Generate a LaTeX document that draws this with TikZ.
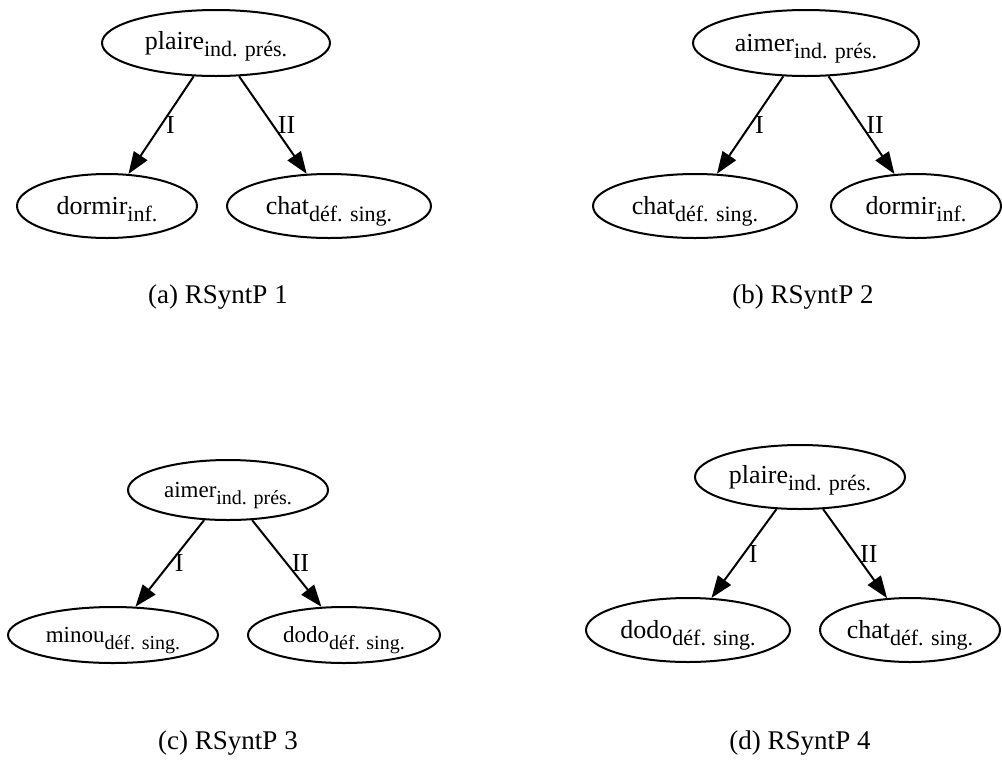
\documentclass[tikz,border=0pt]{standalone}
\usepackage{fontspec}
\setmainfont{Liberation Serif}
\usetikzlibrary{arrows.meta,shapes.geometric}
\newcommand{\gram}[2][11pt]{\raisebox{-3.5pt}[0pt][0pt]{\fontsize{#1}{#1}\selectfont #2}}
\tikzset{
    lex/.style={draw, ellipse, inner sep=0pt, minimum height=32pt, font=\fontsize{13pt}{15pt}\selectfont},
    dep/.style={-{Triangle[length=11pt,width=8pt]}},
    rel/.style={right, inner sep=2pt, font=\fontsize{13pt}{15pt}\selectfont},
    caption/.style={font=\fontsize{13.5pt}{16pt}\selectfont}
}
\begin{document}
\begin{tikzpicture}[x=0.5pt, y=-0.5pt, line width=1pt]
            \useasboundingbox (0,0) rectangle (1002,783);
            \node[lex, minimum width=114pt, minimum height=33pt] (plaireA) at (216,43) {plaire\gram{ind. prés.}};
            \node[lex, minimum width=90pt] (dormirA) at (107,206) {dormir\gram{inf.}};
            \node[lex, minimum width=102pt] (chatA) at (329,206) {chat\gram{déf. sing.}};
            \draw[dep] (plaireA) -- node[rel] {I} (dormirA);
            \draw[dep] (plaireA) -- node[rel] {II} (chatA);
            \node[caption] (capA) at (218,297) {(a) RSyntP 1};
            \node[lex, minimum width=113pt, minimum height=33pt] (aimerB) at (806,43) {aimer\gram{ind. prés.}};
            \node[lex, minimum width=102pt] (chatB) at (695,206) {chat\gram{déf. sing.}};
            \node[lex, minimum width=85pt] (dormirB) at (916,206) {dormir\gram{inf.}};
            \draw[dep] (aimerB) -- node[rel] {I} (chatB);
            \draw[dep] (aimerB) -- node[rel] {II} (dormirB);
            \node[caption] (capB) at (803,297) {(b) RSyntP 2};
            \node[lex, minimum width=100pt, minimum height=30pt, font=\fontsize{11.5pt}{13pt}\selectfont] (aimerC) at (228,490) {aimer\gram[10pt]{ind. prés.}};
            \node[lex, minimum width=105pt, minimum height=28pt, font=\fontsize{11.5pt}{13pt}\selectfont] (minouC) at (113,635) {minou\gram[10pt]{déf. sing.}};
            \node[lex, minimum width=96pt, minimum height=28pt, font=\fontsize{11.5pt}{13pt}\selectfont] (dodoC) at (344,635) {dodo\gram[10pt]{déf. sing.}};
            \draw[dep] (aimerC) -- node[rel] {I} (minouC);
            \draw[dep] (aimerC) -- node[rel] {II} (dodoC);
            \node[caption] (capC) at (228,743) {(c) RSyntP 3};
            \node[lex, minimum width=105pt] (plaireD) at (800,477) {plaire\gram{ind. prés.}};
            \node[lex, minimum width=102pt] (dodoD) at (688,630) {dodo\gram{déf. sing.}};
            \node[lex, minimum width=90pt] (chatD) at (910,630) {chat\gram{déf. sing.}};
            \draw[dep] (plaireD) -- node[rel] {I} (dodoD);
            \draw[dep] (plaireD) -- node[rel] {II} (chatD);
            \node[caption] (capD) at (800,743) {(d) RSyntP 4};
        \end{tikzpicture}
\end{document}
